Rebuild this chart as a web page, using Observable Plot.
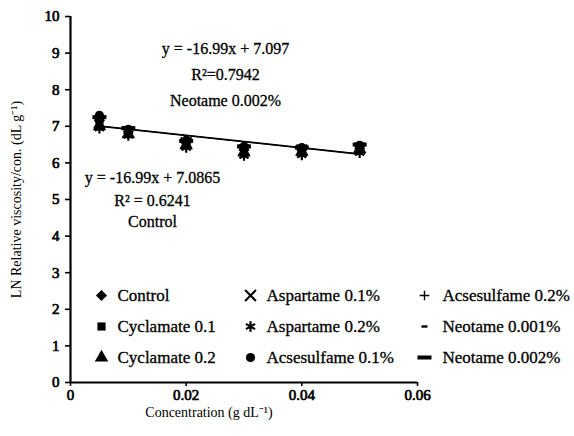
<!DOCTYPE html>
<html>
<head>
<meta charset="utf-8">
<script src="https://cdn.jsdelivr.net/npm/d3@7"></script>
<script src="https://cdn.jsdelivr.net/npm/@observablehq/plot@0.6"></script>
<style>
  html, body { margin: 0; padding: 0; background: #fff; }
  #chart svg { display: block; }
  #chart svg text { font-family: 'Liberation Serif', 'Times New Roman', serif; }
  #chart svg g[aria-label$="tick label"] text { stroke: black; stroke-width: 0.7px; }
  #chart svg g.boldish text { stroke: black; stroke-width: 0.3px; }
</style>
</head>
<body>
<div id="chart"></div>
<script>
// ---- data ----
const concentrations = [0.005, 0.01, 0.02, 0.03, 0.04, 0.05];
const seriesNames = ["Control", "Cyclamate 0.1", "Cyclamate 0.2", "Aspartame 0.1%", "Aspartame 0.2%", "Acsesulfame 0.1%", "Acsesulfame 0.2%", "Neotame 0.001%", "Neotame 0.002%"];
const control       = [7.15, 6.85, 6.55, 6.35, 6.35, 6.40];
const cyclamate01   = [7.10, 6.85, 6.50, 6.40, 6.35, 6.45];
const cyclamate02   = [7.00, 6.78, 6.48, 6.28, 6.30, 6.38];
const aspartame01   = [7.10, 6.85, 6.55, 6.35, 6.35, 6.40];
const aspartame02   = [6.95, 6.75, 6.42, 6.20, 6.22, 6.28];
const acsesulfame01 = [7.30, 6.92, 6.62, 6.45, 6.42, 6.48];
const acsesulfame02 = [7.20, 6.90, 6.55, 6.40, 6.40, 6.45];
const neotame0001   = [7.15, 6.90, 6.55, 6.40, 6.40, 6.45];
const neotame0002   = [7.25, 6.95, 6.60, 6.45, 6.42, 6.50];
const seriesValues = [control, cyclamate01, cyclamate02, aspartame01, aspartame02, acsesulfame01, acsesulfame02, neotame0001, neotame0002];

// regression lines (from the equations printed on the chart)
const fitNames = ["Neotame 0.002%", "Control"];
const fitSlopes = [-16.99, -16.99];
const fitIntercepts = [7.097, 7.0865];
const fitRange = [0.005, 0.05];

// annotation texts
const neotameLabels = ["y = -16.99x + 7.097", "R\u00B2=0.7942", "Neotame 0.002%"];
const controlLabels = ["y = -16.99x + 7.0865", "R\u00B2 = 0.6241", "Control"];

const yTicks = [0,1,2,3,4,5,6,7,8,9,10];
const xTicks = [0, 0.02, 0.04, 0.06];

// ---- styling / layout ----
const W = 574, H = 436;
const mL = 70, mR = 157, mT = 16, mB = 54;
const dashShort = { draw(ctx) { ctx.rect(-3, -1.2, 6, 2.4); } };
const dashLong  = { draw(ctx) { ctx.rect(-7, -2, 14, 4); } };
const symbolSpec = [
  { symbol: "diamond2", fill: "black", stroke: "none", r: 5 },
  { symbol: "square", fill: "black", stroke: "none", r: 4.6 },
  { symbol: "triangle", fill: "black", stroke: "none", r: 5 },
  { symbol: "times", fill: "none", stroke: "black", r: 5, strokeWidth: 2 },
  { symbol: "asterisk", fill: "none", stroke: "black", r: 5, strokeWidth: 2.2 },
  { symbol: "circle", fill: "black", stroke: "none", r: 4.6 },
  { symbol: "plus", fill: "none", stroke: "black", r: 3.2, strokeWidth: 1.4 },
  { symbol: dashShort, fill: "black", stroke: "none", r: 4 },
  { symbol: dashLong, fill: "black", stroke: "none", r: 4 }
];
// legend grid (pixel layout)
const legendSymX = [101, 250, 424];
const legendTextX = [117, 266, 442];
const legendRowY = [295, 326, 357];

// tidy table
const points = seriesNames.flatMap((name, i) =>
  concentrations.map((c, j) => ({ series: i, name, x: c, y: seriesValues[i][j] })));

const fits = fitNames.map((n, i) => fitRange.map(x => ({ name: n, x, y: fitSlopes[i] * x + fitIntercepts[i] }))).flat();

const sx = v => (v - mL) / (W - mL - mR) * 0.06;
const sy = v => (H - mB - v) / (H - mB - mT) * 10;

const annot = [
  ...neotameLabels.map((t, k) => ({ t, px: 225, py: [48, 74, 100][k] })),
  ...controlLabels.map((t, k) => ({ t, px: 152, py: [177, 200, 221][k] }))
];

const marks = [
  Plot.line(fits, { x: "x", y: "y", z: "name", stroke: "black", strokeWidth: 1.4 }),
  ...symbolSpec.map((s, i) => Plot.dot(points.filter(d => d.series === i), { x: "x", y: "y", ...s })),
  Plot.ruleY([0], { strokeWidth: 2.2 }),
  Plot.ruleX([0], { strokeWidth: 2.2 }),
  Plot.axisY({ ticks: yTicks, tickSize: 5, tickPadding: 6, tickFormat: d3.format("d"), fontSize: 15, label: null, strokeWidth: 1.6 }),
  Plot.axisX({ ticks: xTicks, tickSize: 4, tickPadding: 3, tickFormat: d => d === 0 ? "0" : d3.format(".2f")(d), fontSize: 15, label: null, strokeWidth: 1.6 }),
  Plot.text(["LN Relative viscosity/con. (dL g\u207B\u00B9)"], { frameAnchor: "left", rotate: -90, dx: -54, textAnchor: "middle", fontSize: 14 }),
  Plot.text(["Concentration (g dL\u207B\u00B9)"], { frameAnchor: "bottom", dy: 34, dx: -35, fontSize: 14 }),
  Plot.text(annot, { x: d => sx(d.px), y: d => sy(d.py), text: "t", fontSize: 16, className: "boldish" }),
  ...seriesNames.flatMap((name, i) => {
    const col = Math.floor(i / 3), row = i % 3;
    return [
      Plot.dot([name], { frameAnchor: "top-left", dx: legendSymX[col] - mL, dy: legendRowY[row] - mT, ...symbolSpec[i] }),
      Plot.text([name], { frameAnchor: "top-left", dx: legendTextX[col] - mL, dy: legendRowY[row] - mT, textAnchor: "start", lineAnchor: "middle", fontSize: 17, className: "boldish" })
    ];
  })
];

const chart = Plot.plot({
  width: W, height: H,
  marginLeft: mL, marginRight: mR, marginTop: mT, marginBottom: mB,
  x: { domain: [0, 0.06] },
  y: { domain: [0, 10] },
  style: { fontFamily: "'Liberation Serif', 'Times New Roman', serif", fontSize: "16px", color: "black", background: "white" },
  marks
});
document.getElementById("chart").appendChild(chart);
</script>
</body>
</html>
